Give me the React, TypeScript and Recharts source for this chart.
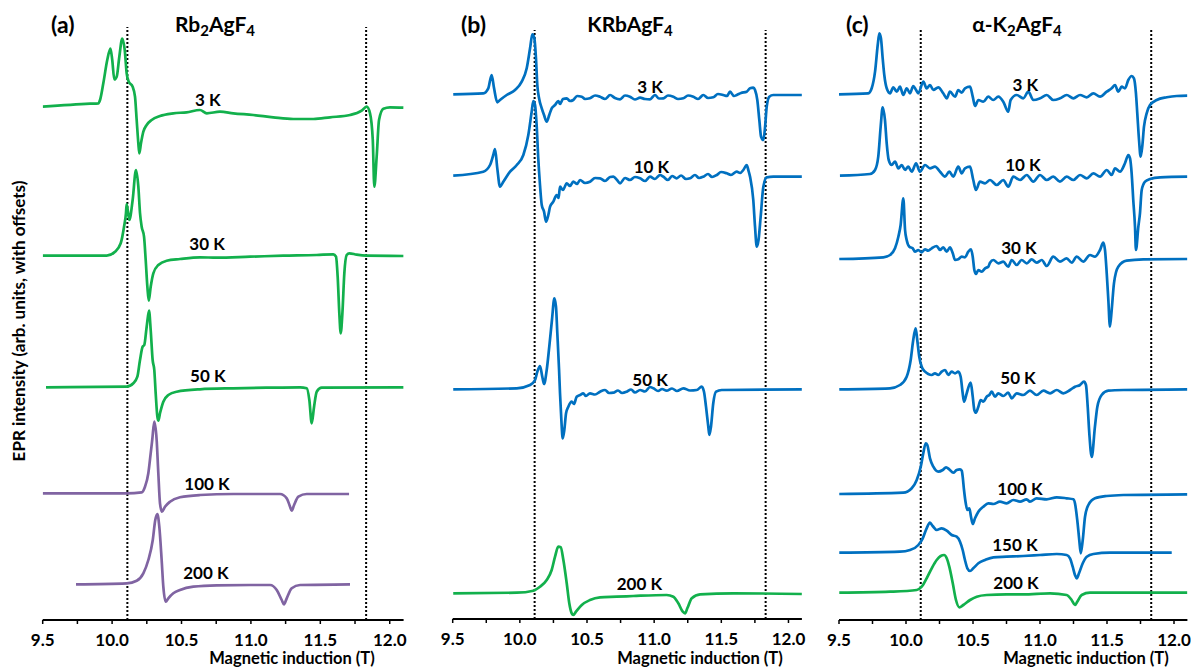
import React from 'react';
import { LineChart, Line, XAxis, YAxis, ReferenceLine, ReferenceDot } from 'recharts';

const FONT = 'Lato, "Open Sans", sans-serif';
const GREEN = '#12b04c';
const BLUE = '#0070c0';
const PURPLE = '#8064a2';

// x axis
const X_DOMAIN: [number, number] = [9.5, 12.1];
const TICKS = [9.5, 9.75, 10, 10.25, 10.5, 10.75, 11, 11.25, 11.5, 11.75, 12];
const DOTTED_FIELDS = [10.11, 11.83];

// ---------- Panel (a) Rb2AgF4 : [field (T), intensity (arb.)] ----------
const A_3K: [number, number][] = [[9.5,0.3],[9.841,3.3],[9.901,3.7],[9.913,7],[9.937,24],[9.965,47],[9.988,58.5],[10.001,47],[10.016,27.5],[10.033,30.3],[10.052,50.3],[10.073,68.5],[10.091,57],[10.105,33.7],[10.12,25.3],[10.148,20.3],[10.165,10.3],[10.177,-13],[10.189,-36.3],[10.196,-46.3],[10.208,-36.3],[10.225,-24.7],[10.249,-18],[10.285,-13],[10.345,-9],[10.441,-6.3],[10.537,-5.3],[10.633,-3],[10.682,-6.3],[10.777,-4.7],[10.873,-6.3],[11.017,-8],[11.161,-10.3],[11.305,-12],[11.45,-12],[11.57,-10.3],[11.714,-8],[11.798,-3.7],[11.834,0.3],[11.858,-6.3],[11.878,-33],[11.889,-79.7],[11.906,-49.7],[11.923,-13],[11.954,-1.7],[12.002,-0.3],[12.1,-0.7]];
const A_30K: [number, number][] = [[9.5,0.3],[9.961,0.3],[10.021,4.3],[10.062,12.7],[10.086,29.3],[10.1,43],[10.105,52],[10.124,36],[10.148,56],[10.172,86],[10.189,69.3],[10.201,43],[10.213,29.3],[10.23,19.3],[10.242,-4],[10.254,-30.7],[10.264,-44.7],[10.278,-30.7],[10.297,-17.3],[10.333,-9],[10.393,-4.7],[10.489,-3],[10.633,-1.3],[10.754,-1.7],[10.994,-0.7],[11.233,0.3],[11.474,1],[11.594,1.7],[11.613,-0.7],[11.625,-20.7],[11.637,-57.3],[11.647,-77.3],[11.659,-57.3],[11.673,-17.3],[11.69,1],[11.709,2.7],[11.762,1.3],[11.834,0.3],[12.1,0]];
const A_50K: [number, number][] = [[9.524,0],[10.105,0.6],[10.153,4],[10.182,10.6],[10.201,27.3],[10.22,40.6],[10.232,42.3],[10.249,60.6],[10.266,76.6],[10.278,57.3],[10.292,27.3],[10.304,17.3],[10.314,-6],[10.326,-29.4],[10.333,-33.4],[10.345,-26],[10.369,-14.4],[10.405,-7.7],[10.465,-4.4],[10.633,-2],[10.873,-1],[11.114,-0.4],[11.354,0],[11.402,-1],[11.421,-12.7],[11.438,-36],[11.455,-19.4],[11.474,-4.4],[11.51,-0.4],[12.1,0]];
const A_100K: [number, number][] = [[9.5,0],[10.105,0],[10.213,1],[10.237,6.6],[10.261,20],[10.278,40],[10.289,53.3],[10.304,71.6],[10.321,53.3],[10.333,20],[10.345,-10],[10.359,-18.4],[10.381,-13.4],[10.417,-8.4],[10.489,-4],[10.633,-1.7],[10.873,-0.7],[11.21,-0.7],[11.258,-5],[11.282,-13.4],[11.294,-17.4],[11.311,-11.7],[11.342,-3.4],[11.402,-0.7],[11.707,-0.7]];
const A_200K: [number, number][] = [[9.74,0],[10.105,1],[10.177,3.6],[10.225,11],[10.261,24.3],[10.293,44.3],[10.311,64.3],[10.326,70.3],[10.34,57.6],[10.357,24.3],[10.369,-2.4],[10.386,-17.4],[10.405,-14],[10.441,-9],[10.489,-5.7],[10.585,-2.4],[10.754,-1],[10.994,-0.7],[11.138,-0.7],[11.186,-5.7],[11.222,-15.7],[11.238,-20],[11.258,-14],[11.294,-4],[11.354,-0.7],[11.714,0]];
const A_TEMPS = ['3 K', '30 K', '50 K', '100 K', '200 K'];
const A_OFFSETS = [513, 364, 232.7, 126.7, 35.7];
const A_LABEL_FIELD = [10.69, 10.684, 10.69, 10.684, 10.676];
const A_LABEL_LEVEL = [520, 376, 244, 136, 47];

// ---------- Panel (b) KRbAgF4 ----------
const B_3K: [number, number][] = [[9.504,0],[9.728,1],[9.765,6],[9.79,19.3],[9.808,6],[9.832,-8],[9.852,-5.7],[9.902,-0.7],[9.964,4.3],[10.014,12.6],[10.051,26],[10.076,46],[10.093,60],[10.108,56],[10.12,36],[10.13,9.3],[10.143,-4],[10.163,-14],[10.18,-20.7],[10.2,-27.4],[10.219,-20.7],[10.237,-14],[10.262,-10.7],[10.286,-6.7],[10.299,-9.7],[10.321,-4.7],[10.349,-4],[10.373,-6.7],[10.398,-5.7],[10.426,-1.7],[10.461,-2.4],[10.485,-4.7],[10.522,-4],[10.56,-1.2],[10.597,-2.4],[10.634,-4.7],[10.672,-0.7],[10.708,-3.7],[10.746,-5],[10.783,-1.2],[10.82,-2.4],[10.857,-5.2],[10.895,-3.4],[10.932,-4.7],[10.969,-5],[11.006,-0.7],[11.036,-4.2],[11.068,-4],[11.103,-1.2],[11.143,-2.4],[11.178,-4.7],[11.217,-4],[11.252,-1.2],[11.292,-2.4],[11.327,-4.7],[11.366,-0.7],[11.401,-3.7],[11.44,-3],[11.475,0.3],[11.515,-0.7],[11.542,-1.7],[11.565,2.6],[11.594,-1.7],[11.615,-0.7],[11.647,1.3],[11.689,2.6],[11.714,6],[11.738,6.6],[11.751,4.3],[11.768,-5.7],[11.783,-25.7],[11.796,-42.4],[11.813,-45.7],[11.826,-32.4],[11.838,-12.4],[11.857,-2.4],[11.887,-0.7],[12.1,-0.7]];
const B_10K: [number, number][] = [[9.504,-0.7],[9.728,3.3],[9.778,10],[9.802,20],[9.815,26],[9.832,6.7],[9.852,-11.7],[9.877,-6.7],[9.927,3.3],[9.977,10],[10.026,20],[10.063,40],[10.088,63.3],[10.1,74],[10.113,70],[10.125,50],[10.137,16.7],[10.15,-10],[10.163,-30],[10.18,-36.7],[10.195,-46.7],[10.212,-40],[10.225,-31.7],[10.249,-26.7],[10.274,-20],[10.288,-23],[10.299,-11.7],[10.321,-15],[10.349,-8.3],[10.373,-11],[10.398,-6.7],[10.426,-9],[10.448,-5],[10.485,-8],[10.522,-6.7],[10.56,-3],[10.597,-3.3],[10.634,-6],[10.672,-2],[10.696,-1.7],[10.724,-5],[10.746,-8.3],[10.783,-3],[10.82,-5],[10.857,-2],[10.895,-3.3],[10.932,-6],[10.969,-1.7],[11.006,-4],[11.044,0],[11.068,-1.7],[11.103,-5],[11.133,-1],[11.168,-3.3],[11.2,-0.5],[11.237,-4],[11.267,-3.3],[11.304,0],[11.334,-3],[11.366,-1.7],[11.401,1],[11.431,-2],[11.466,0],[11.498,3],[11.54,1.7],[11.572,0],[11.615,3.3],[11.64,2],[11.664,5],[11.689,10],[11.701,5],[11.714,-1.7],[11.738,-25],[11.751,-51.7],[11.764,-71.7],[11.777,-65],[11.793,-41.7],[11.813,-11.7],[11.838,-2.3],[11.887,-1.7],[12.1,-1.7]];
const B_50K: [number, number][] = [[9.504,0],[9.977,1],[10.076,4.3],[10.113,9.3],[10.13,17.6],[10.15,23.3],[10.167,12.6],[10.18,5.3],[10.2,19.3],[10.219,42.6],[10.239,69.3],[10.257,91],[10.269,82.6],[10.279,56],[10.292,19.3],[10.299,-4],[10.309,-30.7],[10.319,-49],[10.331,-40.7],[10.344,-24],[10.361,-17.4],[10.386,-12.4],[10.403,-14.7],[10.423,-7.4],[10.448,-5.7],[10.472,-4],[10.492,-6.7],[10.522,-4],[10.56,-5.2],[10.597,-2.4],[10.634,-0.7],[10.664,-3.7],[10.696,-3.4],[10.731,-1.2],[10.761,-3.7],[10.796,-2.4],[10.828,-0.2],[10.857,-3.2],[10.895,-0.7],[10.932,-2.2],[10.969,2.3],[10.994,1],[11.029,-1.7],[11.059,0.3],[11.093,-1.4],[11.133,0.8],[11.17,-1.7],[11.217,1],[11.267,-1.2],[11.317,-0.7],[11.354,2.6],[11.371,-2.4],[11.386,-17.4],[11.403,-37.4],[11.411,-45.7],[11.423,-37.4],[11.44,-14],[11.461,-2.4],[11.503,-0.7],[12.1,0]];
const B_200K: [number, number][] = [[9.504,0],[9.977,0.6],[10.1,2.6],[10.15,6.6],[10.2,13.3],[10.237,23.3],[10.262,36.6],[10.286,46.6],[10.304,46],[10.324,33.3],[10.349,10],[10.368,-10],[10.386,-20],[10.398,-21.7],[10.418,-18.4],[10.461,-11.7],[10.522,-6.7],[10.597,-4],[10.721,-3.4],[10.845,-2.7],[11.093,-1.7],[11.143,-3.4],[11.18,-10],[11.213,-18.4],[11.23,-20],[11.247,-15],[11.28,-5],[11.342,-1],[11.589,0],[12.1,-0.7]];
const B_TEMPS = ['3 K', '10 K', '50 K', '200 K'];
const B_OFFSETS = [525.7, 445, 230.7, 26.7];
const B_LABEL_FIELD = [10.97, 10.98, 10.97, 10.89];
const B_LABEL_LEVEL = [533, 453, 240, 36];

// ---------- Panel (c) alpha-K2AgF4 ----------
const C_3K: [number, number][] = [[9.5,0],[9.719,1],[9.744,6],[9.769,22.6],[9.789,49.3],[9.801,61],[9.813,56],[9.826,36],[9.838,19.3],[9.856,6],[9.881,1],[9.905,7],[9.931,2.6],[9.955,7.6],[9.98,-0.7],[10.005,6],[10.03,1],[10.054,8.3],[10.075,4.3],[10.092,1],[10.129,12.6],[10.154,6],[10.179,9.3],[10.204,4.3],[10.241,7],[10.278,1],[10.304,-4],[10.328,2.6],[10.366,-2.4],[10.39,4.3],[10.416,1.6],[10.44,6],[10.478,7.6],[10.498,-2.4],[10.515,-11.7],[10.54,-5.7],[10.577,-7.4],[10.614,-2.4],[10.651,-5.7],[10.689,-2.4],[10.726,-7.4],[10.763,-17.4],[10.781,-5.7],[10.826,-0.7],[10.875,-4],[10.913,2.6],[10.95,-5.7],[11,-4],[11.05,-0.7],[11.099,-5.7],[11.149,-4],[11.199,-0.7],[11.249,-4],[11.299,-0.7],[11.349,-3],[11.398,1],[11.448,-2.4],[11.498,2.6],[11.535,6],[11.56,9.3],[11.584,2.6],[11.61,7.6],[11.634,6],[11.659,14.3],[11.684,18.3],[11.701,16],[11.716,1],[11.726,-19],[11.739,-45.7],[11.751,-62.4],[11.763,-52.4],[11.776,-32.4],[11.796,-19],[11.821,-10.7],[11.871,-5.7],[11.946,-3],[12.02,-1.7],[12.1,-1.4]];
const C_10K: [number, number][] = [[9.507,0],[9.731,1.7],[9.769,5.7],[9.793,19],[9.811,49],[9.826,68.4],[9.843,55.7],[9.856,32.4],[9.871,15.7],[9.893,10.7],[9.918,14],[9.943,7.4],[9.968,10.7],[9.993,5.7],[10.017,9],[10.043,4],[10.075,12.4],[10.104,4],[10.142,10.7],[10.179,7.4],[10.216,9],[10.254,4],[10.291,-1],[10.323,4],[10.353,-1],[10.39,9],[10.416,2.4],[10.44,7.4],[10.478,9],[10.502,-4.3],[10.522,-14.3],[10.552,-6],[10.59,-7.6],[10.627,-4.3],[10.677,-9.3],[10.726,-4.3],[10.763,-11],[10.801,-1],[10.851,-4.3],[10.901,0.7],[10.95,-6],[11,0.7],[11.05,-4.3],[11.099,-1],[11.149,-6],[11.199,-1],[11.249,-4.3],[11.299,0.7],[11.349,-2.6],[11.398,2.4],[11.448,-1],[11.498,5.7],[11.535,0.7],[11.56,7.4],[11.597,4],[11.634,12.4],[11.659,20.7],[11.672,17.4],[11.684,2.4],[11.696,-24.3],[11.709,-51],[11.716,-74.3],[11.734,-51],[11.746,-37.6],[11.759,-14.3],[11.784,-6],[11.821,-3.3],[11.896,-1.6],[12.1,-1]];
const C_30K: [number, number][] = [[9.502,0],[9.831,1.7],[9.881,4],[9.918,10.7],[9.943,22.3],[9.96,34],[9.98,60.7],[9.993,29],[10.005,19],[10.025,12.3],[10.05,10.7],[10.067,7.3],[10.092,9],[10.117,6.7],[10.142,9.7],[10.166,8.3],[10.192,10.7],[10.229,13],[10.254,9],[10.278,11.7],[10.304,7.3],[10.328,11.7],[10.349,5.7],[10.366,-1],[10.39,-0.3],[10.416,2.3],[10.44,1.7],[10.465,7.3],[10.485,9.7],[10.498,2.3],[10.51,-11],[10.522,-15],[10.54,-11],[10.565,-12.7],[10.59,-9.3],[10.614,-7.7],[10.627,-3.7],[10.652,-1],[10.689,-4.3],[10.726,-2.7],[10.763,-7.7],[10.789,-1],[10.826,-6],[10.863,-1],[10.901,-4.3],[10.938,-0.3],[10.975,-3.7],[11.013,-1],[11.05,-7],[11.099,2.3],[11.149,-2.7],[11.199,0.7],[11.237,-3.7],[11.274,2.3],[11.323,-2.7],[11.373,4],[11.41,2.3],[11.448,9],[11.472,16.3],[11.485,9],[11.498,-14.3],[11.51,-41],[11.522,-67.7],[11.535,-51],[11.552,-24.3],[11.584,-7.7],[11.647,-1.7],[11.771,-0.3],[12.1,0]];
const C_50K: [number, number][] = [[9.502,0],[9.881,1],[9.955,4.3],[10.005,12.6],[10.035,29.3],[10.054,49.3],[10.072,61],[10.084,49.3],[10.099,32.6],[10.117,22.6],[10.142,17.6],[10.166,15.3],[10.192,14.3],[10.216,16],[10.241,14.3],[10.266,17.6],[10.291,19.3],[10.316,14.3],[10.341,17.6],[10.366,16],[10.39,17.6],[10.408,12.6],[10.423,-4],[10.433,-12.4],[10.453,-4],[10.472,4.3],[10.483,6.6],[10.498,-7.4],[10.51,-20.7],[10.522,-23.4],[10.54,-17.4],[10.557,-10.7],[10.577,-12.4],[10.602,-7.4],[10.622,-5.7],[10.64,-2.4],[10.664,-7.4],[10.689,-4],[10.726,-6.7],[10.763,-3.4],[10.789,-9],[10.826,-4],[10.875,-5.7],[10.925,-1.4],[10.975,-5.7],[11.025,-1.4],[11.075,-4],[11.125,-0.7],[11.174,-4],[11.224,-0.7],[11.261,2.6],[11.299,4.3],[11.328,7.6],[11.343,4.3],[11.356,-17.4],[11.368,-44],[11.386,-67.7],[11.41,-37.4],[11.428,-17.4],[11.46,-5.7],[11.51,-1.4],[11.622,-0.7],[12.1,0]];
const C_100K: [number, number][] = [[9.502,0],[9.98,1.3],[10.043,5.7],[10.08,14],[10.11,27.3],[10.129,40.7],[10.147,50.7],[10.159,49],[10.179,35.7],[10.204,27.3],[10.241,22.3],[10.274,24],[10.299,26.7],[10.323,24.7],[10.353,21.3],[10.378,24],[10.403,24.7],[10.416,23.3],[10.423,17.3],[10.433,4],[10.446,-9.3],[10.458,-16],[10.473,-14.3],[10.485,-22.7],[10.498,-30],[10.515,-24.3],[10.54,-17.7],[10.577,-12.7],[10.614,-9.3],[10.652,-10],[10.701,-7.7],[10.751,-9.3],[10.801,-6],[10.851,-7.7],[10.901,-5.3],[10.925,-7.7],[10.975,-4.3],[11.05,-5.3],[11.125,-3.3],[11.199,-4.3],[11.249,-5.3],[11.261,-9.3],[11.278,-26],[11.293,-46],[11.304,-59.3],[11.319,-46],[11.336,-22.7],[11.361,-11],[11.41,-4.3],[11.498,-2],[11.622,-1],[12.1,-0.3]];
const C_150K: [number, number][] = [[9.502,0],[9.955,1],[10.03,2.7],[10.092,7.7],[10.125,14.4],[10.154,24.4],[10.179,30],[10.199,26.7],[10.229,22.7],[10.266,24.4],[10.304,22],[10.341,17.7],[10.378,16],[10.403,11],[10.423,2.7],[10.44,-7.3],[10.458,-15.6],[10.478,-18.3],[10.502,-15.6],[10.54,-10.6],[10.59,-7.3],[10.652,-4.6],[10.751,-4],[10.875,-3.3],[11,-2.3],[11.125,-1.3],[11.199,-2.3],[11.224,-5.6],[11.244,-14],[11.261,-22.3],[11.274,-25.6],[11.291,-20.6],[11.319,-10.6],[11.349,-4],[11.398,-1.3],[11.522,0],[11.983,0]];
const C_200K: [number, number][] = [[9.502,0],[9.881,1],[10.08,2.7],[10.117,6],[10.154,14.4],[10.192,24.4],[10.229,32.7],[10.259,36.7],[10.284,37.7],[10.304,34.4],[10.323,26],[10.349,9.4],[10.373,-7.3],[10.398,-14.6],[10.428,-12.3],[10.478,-7.3],[10.528,-4],[10.602,-2.3],[10.751,-1.6],[10.875,-1.6],[11.075,-0.6],[11.199,-2.3],[11.236,-7.3],[11.261,-12.3],[11.278,-9],[11.311,-2.3],[11.373,0],[12.1,0]];
const C_TEMPS = ['3 K', '10 K', '30 K', '50 K', '100 K', '150 K', '200 K'];
const C_OFFSETS = [525.7, 444.3, 361, 230.7, 126, 67.3, 27.3];
const C_LABEL_FIELD = [10.89, 10.873, 10.843, 10.836, 10.851, 10.813, 10.821];
const C_LABEL_LEVEL = [535, 455, 372, 242, 131, 75, 37];

type Pt = { x: number; y: number };
const build = (pts: [number, number][], offset: number): Pt[] =>
  pts.map(([x, v]) => ({ x, y: offset + v }));

interface Panel {
  left: number;
  width: number;
  margin: { top: number; right: number; bottom: number; left: number };
  yDomain: [number, number];
  spectra: [number, number][][];
  colors: string[];
  temps: string[];
  offsets: number[];
  labelField: number[];
  labelLevel: number[];
}

const PANELS: Panel[] = [
  {
    left: 0, width: 420,
    margin: { top: 27, right: 16.4, bottom: 7, left: 42.7 },
    yDomain: [0, 593],
    spectra: [A_3K, A_30K, A_50K, A_100K, A_200K],
    colors: [GREEN, GREEN, GREEN, PURPLE, PURPLE],
    temps: A_TEMPS, offsets: A_OFFSETS, labelField: A_LABEL_FIELD, labelLevel: A_LABEL_LEVEL,
  },
  {
    left: 430, width: 380,
    margin: { top: 30, right: 8.1, bottom: 8, left: 22.7 },
    yDomain: [1, 590],
    spectra: [B_3K, B_10K, B_50K, B_200K],
    colors: [BLUE, BLUE, BLUE, GREEN],
    temps: B_TEMPS, offsets: B_OFFSETS, labelField: B_LABEL_FIELD, labelLevel: B_LABEL_LEVEL,
  },
  {
    left: 815, width: 376,
    margin: { top: 30, right: 3.6, bottom: 7, left: 24 },
    yDomain: [0, 590],
    spectra: [C_3K, C_10K, C_30K, C_50K, C_100K, C_150K, C_200K],
    colors: [BLUE, BLUE, BLUE, BLUE, BLUE, BLUE, GREEN],
    temps: C_TEMPS, offsets: C_OFFSETS, labelField: C_LABEL_FIELD, labelLevel: C_LABEL_LEVEL,
  },
];

const fmtTick = (v: number) => (Math.round(v * 100) % 50 === 0 ? v.toFixed(1) : '');

const TickLabel = (props: any) => {
  const { x, y, payload } = props;
  const s = fmtTick(payload.value);
  if (!s) return null;
  return (
    <text x={x} y={y} dy={10} textAnchor="middle" fontFamily={FONT} fontWeight={700} fontSize={17} fill="#000">
      {s}
    </text>
  );
};

function PanelChart({ p }: { p: Panel }) {
  return (
    <div style={{ position: 'absolute', left: p.left, top: 0, width: p.width, height: 667 }}>
      <LineChart width={p.width} height={667} margin={p.margin}>
        <XAxis
          type="number"
          dataKey="x"
          domain={X_DOMAIN}
          ticks={TICKS}
          interval={0}
          allowDataOverflow
          tickSize={4}
          tickMargin={12}
          height={40}
          axisLine={{ stroke: '#000', strokeWidth: 2 }}
          tickLine={{ stroke: '#000', strokeWidth: 1.5 }}
          tick={<TickLabel />}
        />
        <YAxis
          type="number"
          domain={p.yDomain}
          allowDataOverflow
          tick={false}
          tickLine={false}
          width={0}
          axisLine={{ stroke: '#000', strokeWidth: 2 }}
        />
        {DOTTED_FIELDS.map((f) => (
          <ReferenceLine key={f} x={f} stroke="#000" strokeWidth={2} strokeDasharray="2 2" />
        ))}
        {p.spectra.map((s, i) => (
          <Line
            key={p.temps[i]}
            data={build(s, p.offsets[i])}
            dataKey="y"
            type="monotone"
            stroke={p.colors[i]}
            strokeWidth={2.7}
            strokeLinejoin="round"
            dot={false}
            activeDot={false}
            isAnimationActive={false}
          />
        ))}
        {p.temps.map((t, i) => (
          <ReferenceDot
            key={'l' + t}
            x={p.labelField[i]}
            y={p.labelLevel[i]}
            r={0}
            fill="none"
            stroke="none"
            label={{ value: t, position: 'center', fill: '#000', fontSize: 17, fontWeight: 700, fontFamily: FONT }}
          />
        ))}
      </LineChart>
    </div>
  );
}

export default function App() {
  const txt = { fontFamily: FONT, fontWeight: 700, fill: '#000' } as const;
  return (
    <div style={{ position: 'absolute', left: 0, top: 0, width: 1191, height: 667, background: '#fff', overflow: 'hidden' }}>
      {PANELS.map((p, i) => (
        <PanelChart key={i} p={p} />
      ))}
      <svg width={1191} height={667} style={{ position: 'absolute', left: 0, top: 0, pointerEvents: 'none' }}>
        <text x={51} y={33} fontSize={23} {...txt}>(a)</text>
        <text x={215} y={32} fontSize={21} textAnchor="middle" {...txt}>
          Rb<tspan fontSize={15} dy={4}>2</tspan><tspan dy={-4}>AgF</tspan><tspan fontSize={15} dy={4}>4</tspan>
        </text>
        <text x={461} y={33} fontSize={23} {...txt}>(b)</text>
        <text x={630} y={32} fontSize={21} textAnchor="middle" {...txt}>
          KRbAgF<tspan fontSize={15} dy={4}>4</tspan>
        </text>
        <text x={846} y={33} fontSize={23} {...txt}>(c)</text>
        <text x={1017} y={32} fontSize={21} textAnchor="middle" {...txt}>
          α-K<tspan fontSize={15} dy={4}>2</tspan><tspan dy={-4}>AgF</tspan><tspan fontSize={15} dy={4}>4</tspan>
        </text>
        <text transform="translate(25,321) rotate(-90)" fontSize={17} textAnchor="middle" {...txt}>
          EPR intensity (arb. units, with offsets)
        </text>
        <text x={292} y={664} fontSize={16.5} textAnchor="middle" {...txt}>Magnetic induction (T)</text>
        <text x={700} y={664} fontSize={16.5} textAnchor="middle" {...txt}>Magnetic induction (T)</text>
        <text x={1086} y={664} fontSize={16.5} textAnchor="middle" {...txt}>Magnetic induction (T)</text>
      </svg>
    </div>
  );
}
